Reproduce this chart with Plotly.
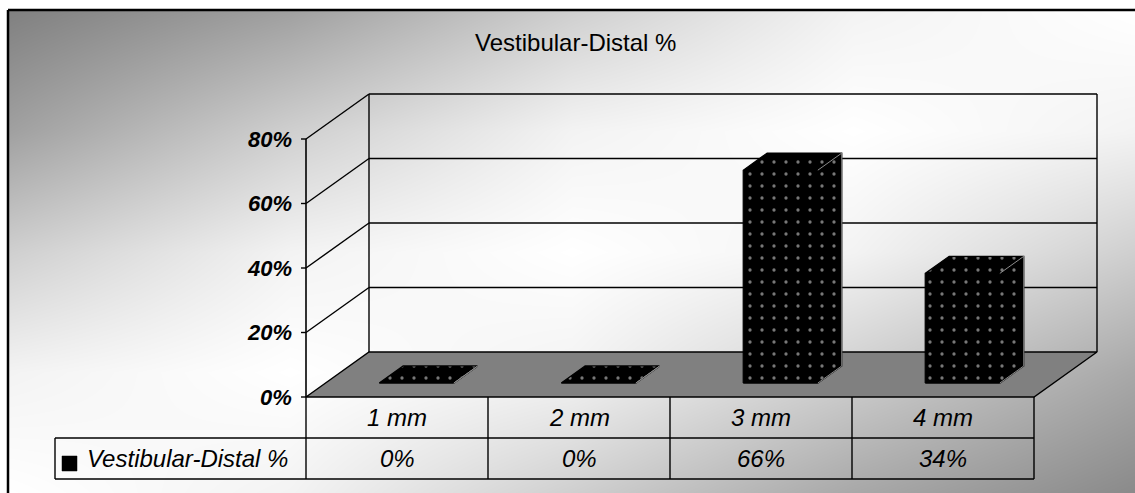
import plotly.graph_objects as go

# ---- data -------------------------------------------------------------
categories = ["1 mm", "2 mm", "3 mm", "4 mm"]
values = [0, 0, 66, 34]
value_labels = ["0%", "0%", "66%", "34%"]
series_name = "Vestibular-Distal %"
title_text = "Vestibular-Distal %"
y_ticks = [0, 20, 40, 60, 80]
y_tick_labels = ["0%", "20%", "40%", "60%", "80%"]

# ---- page geometry (pixels) -------------------------------------------
W, H = 1135, 493
FRONT_LEFT = 306          # left edge of the front plane
COL_W = 182               # width of one category column
Y0_PX, YTOP_PX = 397, 139  # pixel rows of 0 % and 80 % on the front plane
Y_MAX = 80
PX_PER_PCT = (Y0_PX - YTOP_PX) / Y_MAX

x_range = [-0.5 - FRONT_LEFT / COL_W, -0.5 + (W - FRONT_LEFT) / COL_W]
y_range = [-(H - Y0_PX) / PX_PER_PCT, Y_MAX + YTOP_PX / PX_PER_PCT]

# depth of the box (in data units) and where the columns sit inside it
DEPTH_X = 63 / COL_W
DEPTH_Y = 45 / PX_PER_PCT
BAR_FRONT, BAR_BACK = 0.31, 0.69
BAR_W = 0.41

FONT = "Arial, Liberation Sans, sans-serif"
TEXT_SIZE = 24
TICK_SIZE = 22
X_LEFT, X_RIGHT = -0.5, len(categories) - 0.5


def py(p):
    """pixel row -> paper y"""
    return 1 - p / H


def pxp(p):
    """pixel column -> paper x"""
    return p / W


fig = go.Figure()

# ---- diagonal grey gradient behind everything --------------------------
shade_stops = [128, 160, 207, 243, 255, 243, 207, 168, 138]
grid_pos = [0, 0.25, 0.5, 0.75, 1.0]
z_bg = [[shade_stops[c + 4 - r] for c in range(5)] for r in range(5)]
fig.add_trace(go.Heatmap(
    x=grid_pos, y=grid_pos, z=z_bg, zmin=0, zmax=255, zsmooth="best",
    colorscale=[[0, "rgb(0,0,0)"], [1, "rgb(255,255,255)"]],
    showscale=False, hoverinfo="skip", xaxis="x", yaxis="y"))

# ---- floor ---------------------------------------------------------------
fig.add_trace(go.Scatter(
    x=[X_LEFT, X_RIGHT, X_RIGHT + DEPTH_X, X_LEFT + DEPTH_X, X_LEFT],
    y=[0, 0, DEPTH_Y, DEPTH_Y, 0],
    mode="lines", fill="toself", fillcolor="#808080",
    line=dict(color="black", width=1.4), hoverinfo="skip",
    xaxis="x2", yaxis="y2", showlegend=False))

# ---- walls and gridlines ----------------------------------------------
gx, gy = [], []
for v in y_ticks[1:]:
    # back wall horizontal
    gx += [X_LEFT + DEPTH_X, X_RIGHT + DEPTH_X, None]
    gy += [v + DEPTH_Y, v + DEPTH_Y, None]
    # side wall diagonal
    gx += [X_LEFT, X_LEFT + DEPTH_X, None]
    gy += [v, v + DEPTH_Y, None]
for xe in (X_LEFT + DEPTH_X, X_RIGHT + DEPTH_X):
    gx += [xe, xe, None]
    gy += [DEPTH_Y, Y_MAX + DEPTH_Y, None]
fig.add_trace(go.Scatter(
    x=gx, y=gy, mode="lines", line=dict(color="black", width=1.4),
    hoverinfo="skip", xaxis="x2", yaxis="y2", showlegend=False))

# ---- 3-D columns ---------------------------------------------------------
ddx = (BAR_BACK - BAR_FRONT) * DEPTH_X
ddy = (BAR_BACK - BAR_FRONT) * DEPTH_Y
yb = BAR_FRONT * DEPTH_Y
ex, ey = [], []
for i, v in enumerate(values):
    xl = i - BAR_W / 2 + BAR_FRONT * DEPTH_X
    xr = xl + BAR_W
    fig.add_trace(go.Scatter(
        x=[xl, xr, xr + ddx, xr + ddx, xl + ddx, xl, xl],
        y=[yb, yb, yb + ddy, yb + v + ddy, yb + v + ddy, yb + v, yb],
        mode="lines", fill="toself", fillcolor="black",
        fillpattern=dict(shape=".", bgcolor="black", fgcolor="#f0f0f0",
                         size=12, solidity=0.06),
        line=dict(color="black", width=1.2), hoverinfo="skip",
        xaxis="x2", yaxis="y2", showlegend=False))
    # lighter edges of the side face
    ex += [xr, xr + ddx, None, xr, xr + ddx, None,
           xr + ddx, xr + ddx, None]
    ey += [yb + v, yb + v + ddy, None, yb, yb + ddy, None,
           yb + ddy, yb + v + ddy, None]
fig.add_trace(go.Scatter(
    x=ex, y=ey, mode="lines", line=dict(color="#8c8c8c", width=1),
    hoverinfo="skip", xaxis="x2", yaxis="y2", showlegend=False))

shapes = []
annotations = []

# ---- value axis ------------------------------------------------------------
shapes.append(dict(type="line", xref="x2", yref="y2", x0=X_LEFT, x1=X_LEFT,
                   y0=0, y1=Y_MAX, line=dict(color="black", width=1.6)))
tick_len = 5 / COL_W
for v, lab in zip(y_ticks, y_tick_labels):
    shapes.append(dict(type="line", xref="x2", yref="y2",
                       x0=X_LEFT - tick_len, x1=X_LEFT, y0=v, y1=v,
                       line=dict(color="black", width=1.4)))
    annotations.append(dict(
        xref="x2", yref="y2", x=X_LEFT - 12 / COL_W, y=v,
        xanchor="right", yanchor="middle", text=lab, showarrow=False,
        font=dict(family=FONT, size=TICK_SIZE, color="black",
                  weight="bold", style="italic")))

# ---- data table ------------------------------------------------------------
ROW1_BOT, ROW2_BOT = 438, 479
LEG_LEFT = 55
for k in range(len(categories) + 1):
    shapes.append(dict(type="line", xref="x2", yref="paper",
                       x0=k - 0.5, x1=k - 0.5,
                       y0=py(Y0_PX), y1=py(ROW2_BOT),
                       line=dict(color="black", width=1.4)))
table_right = pxp(FRONT_LEFT + COL_W * len(categories))
for row in (ROW1_BOT, ROW2_BOT):
    shapes.append(dict(type="line", xref="paper", yref="paper",
                       x0=pxp(LEG_LEFT), x1=table_right,
                       y0=py(row), y1=py(row),
                       line=dict(color="black", width=1.4)))
shapes.append(dict(type="line", xref="paper", yref="paper",
                   x0=pxp(LEG_LEFT), x1=pxp(LEG_LEFT),
                   y0=py(ROW1_BOT), y1=py(ROW2_BOT),
                   line=dict(color="black", width=1.4)))

row1_mid = py((Y0_PX + ROW1_BOT) / 2)
row2_mid = py((ROW1_BOT + ROW2_BOT) / 2)
for i, (cat, lab) in enumerate(zip(categories, value_labels)):
    annotations.append(dict(
        xref="x2", yref="paper", x=i, y=row1_mid, text=cat,
        showarrow=False, xanchor="center", yanchor="middle",
        font=dict(family=FONT, size=TEXT_SIZE, color="black",
                  style="italic")))
    annotations.append(dict(
        xref="x2", yref="paper", x=i, y=row2_mid, text=lab,
        showarrow=False, xanchor="center", yanchor="middle",
        font=dict(family=FONT, size=TEXT_SIZE, color="black",
                  style="italic")))

# legend key + series name
shapes.append(dict(type="rect", xref="paper", yref="paper",
                   x0=pxp(62), x1=pxp(77), y0=py(471), y1=py(456),
                   fillcolor="black", line=dict(color="black", width=0.5)))
annotations.append(dict(
    xref="paper", yref="paper", x=pxp(85), y=row2_mid, text=series_name,
    showarrow=False, xanchor="left", yanchor="middle",
    font=dict(family=FONT, size=TEXT_SIZE, color="black", style="italic")))

# ---- title -------------------------------------------------------------------
annotations.append(dict(
    xref="paper", yref="paper", x=pxp(575), y=py(42), text=title_text,
    showarrow=False, xanchor="center", yanchor="middle",
    font=dict(family=FONT, size=TEXT_SIZE, color="black")))

# ---- chart frame: left and top edges only ---------------------------------------
shapes.append(dict(type="line", xref="paper", yref="paper",
                   x0=pxp(8), x1=pxp(8), y0=0, y1=py(10),
                   line=dict(color="black", width=2.5)))
shapes.append(dict(type="line", xref="paper", yref="paper",
                   x0=pxp(8), x1=1, y0=py(10), y1=py(10),
                   line=dict(color="black", width=2.5)))

hidden = dict(visible=False, fixedrange=True, showgrid=False, zeroline=False,
              showline=False)
fig.update_layout(
    width=W, height=H,
    margin=dict(l=0, r=0, t=0, b=0, pad=0),
    paper_bgcolor="white", plot_bgcolor="rgba(0,0,0,0)",
    showlegend=False,
    xaxis=dict(domain=[pxp(8), 1], range=[0, 1], **hidden),
    yaxis=dict(domain=[0, py(10)], range=[0, 1], **hidden),
    xaxis2=dict(domain=[0, 1], range=x_range, anchor="y2", **hidden),
    yaxis2=dict(domain=[0, 1], range=y_range, anchor="x2", **hidden),
    shapes=shapes, annotations=annotations,
)

fig.write_html("out.html")
